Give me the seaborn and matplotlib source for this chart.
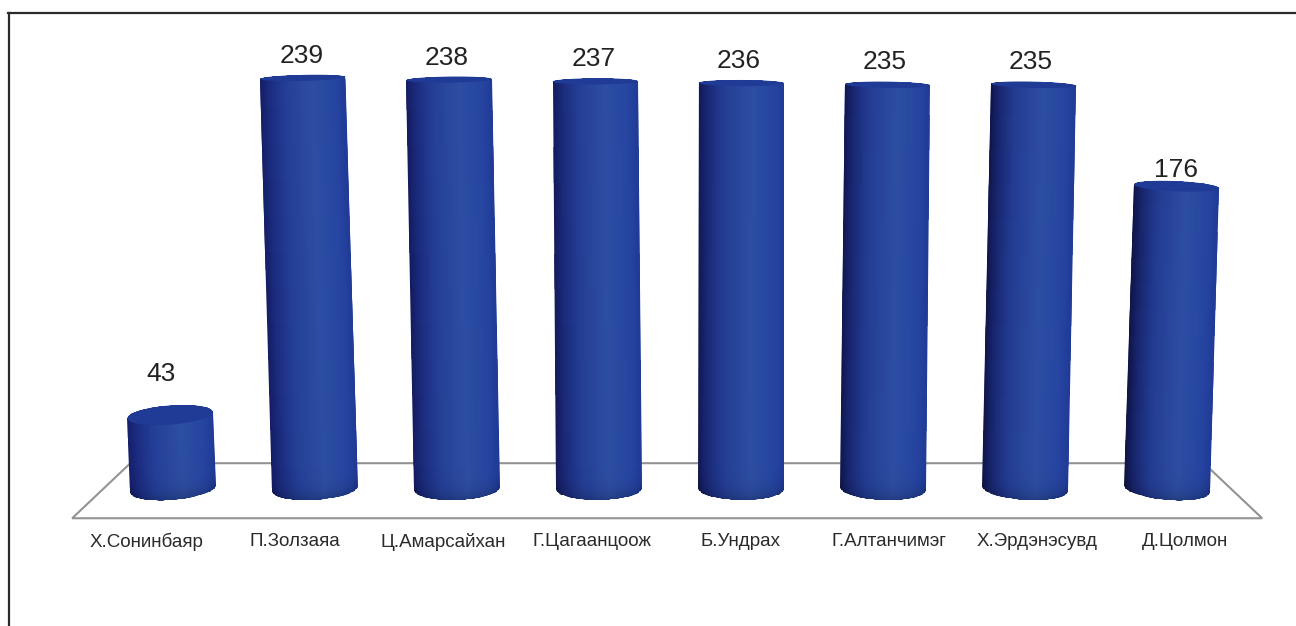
import numpy as np
import pandas as pd
import seaborn as sns
import matplotlib
matplotlib.use("Agg")
import matplotlib.pyplot as plt
from matplotlib.path import Path
from matplotlib.patches import PathPatch
from matplotlib.colors import LinearSegmentedColormap

names = ["Х.Сонинбаяр", "П.Золзаяа", "Ц.Амарсайхан", "Г.Цагаанцоож",
         "Б.Ундрах", "Г.Алтанчимэг", "Х.Эрдэнэсувд", "Д.Цолмон"]
values = [43, 239, 238, 237, 236, 235, 235, 176]

# looks only, in screen pixels
label_pad = [41, 22, 22, 22, 22, 23, 23, 16]
label_shift = [-9, -1, -2, -2, -3, -3, -3, -1]

sns.set_theme(style="white")
plt.rcParams["font.family"] = ["Liberation Sans", "DejaVu Sans"]

W, H = 1296, 626
px_x, px_y = 142.0, 1.72      # pixels per category / per vote
x0_px, y0_px = 173.0, 489.0   # where the first bar stands

fig = plt.figure(figsize=(W / 100, H / 100), dpi=100)
left, right, top, bottom = 8.5, 1296.0, 12.5, 626.0
ax = fig.add_axes([left / W, 1 - bottom / H, (right - left) / W, (bottom - top) / H])

n = len(names)
df = pd.DataFrame({"pos": np.arange(n), "votes": values})
sns.barplot(data=df, x="pos", y="votes", width=0.6, color="#24409a",
            saturation=1, native_scale=True, ax=ax, zorder=3)

ax.set_xlim((left - x0_px) / px_x, (right - x0_px) / px_x)
ax.set_ylim((y0_px - bottom) / px_y, (y0_px - top) / px_y)
ax.set_xlabel("")
ax.set_ylabel("")
ax.set_yticks([])

# labels spread a bit wider than the bars, as in the perspective of the floor
ax.set_xticks([-0.185 + 1.045 * i for i in range(n)])
ax.set_xticklabels(names, fontsize=13.5, color="#2a2a2a")
ax.tick_params(axis="x", length=0, pad=-67)

for side_name, s in ax.spines.items():
    s.set_visible(side_name in ("left", "top"))
    s.set_color("#2b2b2b")
    s.set_linewidth(1.6)

# floor
fy_front, fy_back = -17, 15
floor_x = [-0.30, -0.71, n - 1 + 0.67, n - 1 + 0.26, -0.30]
floor_y = [fy_back, fy_front, fy_front, fy_back, fy_back]
ax.plot(floor_x, floor_y, color="#939393", lw=1.5, zorder=1, solid_joinstyle="miter")

cmap_side = [(0.0, "#17206f"), (0.10, "#1c2c84"), (0.30, "#243f98"),
             (0.62, "#2d4ea3"), (0.88, "#2544a0"), (1.0, "#1f3a97")]
side = LinearSegmentedColormap.from_list("side", cmap_side)
cap = LinearSegmentedColormap.from_list("cap", ["#1a2f88", "#1f3b96", "#20398f"])

t = np.linspace(0, 2 * np.pi, 181)
for i, (bar, v) in enumerate(zip(ax.patches, values)):
    cx = bar.get_x() + bar.get_width() / 2
    a = bar.get_width() / 2
    lean = 4.2 * (i - 3.9) * (v / 239) / px_x
    ry_top = (11 - 8 * v / 239) / px_y
    ry_bot = 11 / px_y
    tilt = -(i - 3.5) / px_y
    tilt_top = tilt * (1 - 0.6 * v / 239)

    # bottom half of lower rim, back along the upper half of the top rim
    tb = np.linspace(np.pi, 2 * np.pi, 60)
    tt = np.linspace(0, np.pi, 60)
    xs = np.r_[cx + a * np.cos(tb), cx + lean + a * np.cos(tt)]
    ys = np.r_[ry_bot * np.sin(tb) + tilt * np.cos(tb),
               v + ry_top * np.sin(tt) + tilt_top * np.cos(tt)]
    outline = PathPatch(Path(np.c_[xs, ys]), transform=ax.transData)
    bar.set_clip_path(outline)

    # shading across the cylinder, darker on the left for bars further right,
    # and a darker rim at the foot
    u = np.linspace(-1.0, 1.0, 90)
    yy = np.r_[np.linspace(-ry_bot - 1, ry_bot + 6, 24), np.linspace(ry_bot + 7, v + ry_top + 1, 12)]
    X = cx + a * 1.02 * u[None, :] + lean * (yy[:, None] / v)
    Y = np.repeat(yy[:, None], len(u), axis=1)
    uc = (u[:-1] + u[1:]) / 4 + 0.5
    rgb = side(uc)[:, :3] * (1 - (0.08 + 0.05 * i) * np.exp(-uc / 0.14))[:, None]
    rgb = np.repeat(rgb[None, :, :], len(yy) - 1, axis=0)
    ym = (yy[:-1] + yy[1:]) / 2
    # rim follows the curve of the lower edge
    um = (u[:-1] + u[1:]) / 2
    edge = -ry_bot * np.sqrt(1 - um ** 2) + tilt * um
    rim = np.exp(-np.clip(ym[:, None] - edge[None, :], 0, None) / 5.0)
    rgb = rgb * (1 - 0.22 * rim)[:, :, None]
    mesh = ax.pcolormesh(X, Y, rgb, shading="flat", zorder=4, antialiased=False,
                         edgecolors="none")
    mesh.set_clip_path(outline)

    # top rim
    xc = cx + lean + a * np.cos(t)
    yc = v + ry_top * np.sin(t) + tilt_top * np.cos(t)
    ax.fill(xc, yc, color=cap(0.5), lw=0, zorder=5)

    ax.annotate(str(v), (cx + lean, v), xytext=(label_shift[i] * 0.72, label_pad[i] * 0.72),
                textcoords="offset points", ha="center", va="center",
                fontsize=19, color="#222222", zorder=6)

fig.savefig("out.png", dpi=100, facecolor="white")
